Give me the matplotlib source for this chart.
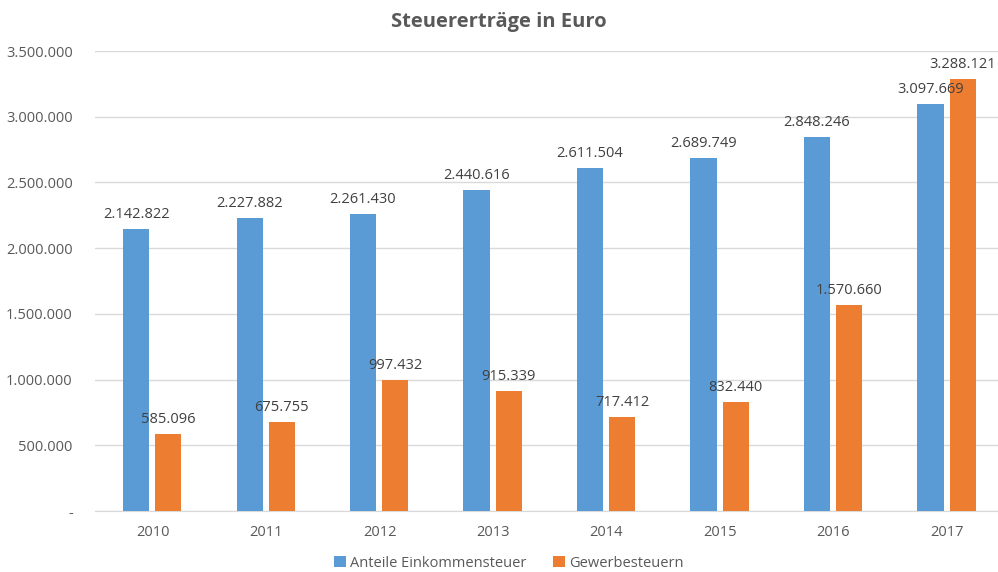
import numpy as np
import matplotlib.pyplot as plt

years = ['2010', '2011', '2012', '2013', '2014', '2015', '2016', '2017']
einkommen = [2142822, 2227882, 2261430, 2440616, 2611504, 2689749, 2848246, 3097669]
gewerbe = [585096, 675755, 997432, 915339, 717412, 832440, 1570660, 3288121]
y_ticks = [0, 500000, 1000000, 1500000, 2000000, 2500000, 3000000, 3500000]

BLUE = '#5B9BD5'
ORANGE = '#ED7D31'
GREY = '#595959'

plt.rcParams['font.family'] = ['Open Sans', 'DejaVu Sans']


def de_fmt(v):
    return f'{v:,.0f}'.replace(',', '.')


fig = plt.figure(figsize=(9.98, 5.72), dpi=100)
ax = fig.add_axes([0.0952, 0.1066, 0.9048, 0.8042])

x = np.arange(len(years))
w = 0.23
b1 = ax.bar(x - 0.145, einkommen, w, color=BLUE, label='Anteile Einkommensteuer', zorder=3)
b2 = ax.bar(x + 0.14, gewerbe, w, color=ORANGE, label='Gewerbesteuern', zorder=3)

for bars, vals in ((b1, einkommen), (b2, gewerbe)):
    for r, v in zip(bars, vals):
        ax.annotate(de_fmt(v), (r.get_x() + r.get_width() / 2, v),
                    xytext=(0, 5), textcoords='offset points',
                    ha='center', va='bottom', fontsize=10.5, color='#404040')

ax.set_xlim(-0.507, 7.45)
ax.set_ylim(0, 3500000)
ax.set_yticks(y_ticks)
ax.set_yticklabels(['-' if t == 0 else de_fmt(t) for t in y_ticks])
ax.set_xticks(x)
ax.set_xticklabels(years)
ax.tick_params(length=0, colors=GREY, labelsize=10.5)
ax.tick_params(axis='x', pad=10)
ax.tick_params(axis='y', pad=16)

ax.grid(axis='y', color='#D9D9D9', linewidth=1, zorder=0)
for s in ('top', 'right', 'left'):
    ax.spines[s].set_visible(False)
ax.spines['bottom'].set_color('#D9D9D9')

fig.text(0.5, 0.961, 'Steuererträge in Euro', ha='center', va='center',
         fontsize=14.5, fontweight='bold', color=GREY)

fig.legend(loc='center', bbox_to_anchor=(0.51, 0.015), ncol=2, frameon=False,
           fontsize=10.5, handlelength=0.8, handleheight=0.8, handletextpad=0.3,
           columnspacing=1.8, labelcolor=GREY)

fig.savefig('out.png', dpi=100)
